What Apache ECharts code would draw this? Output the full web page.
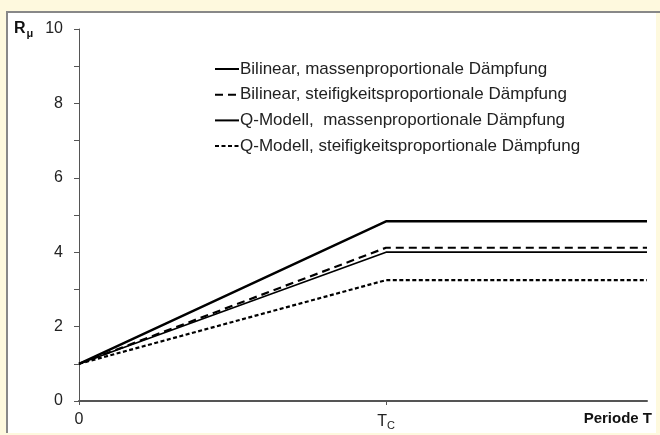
<!DOCTYPE html>
<html>
<head>
<meta charset="utf-8">
<script src="https://cdn.jsdelivr.net/npm/echarts@6/dist/echarts.min.js"></script>
<style>
  html, body { margin: 0; padding: 0; background: #fef9de; }
  #chart { width: 660px; height: 435px; }
</style>
</head>
<body>
<div id="chart"></div>
<script>
// Period axis: 0, corner period T_C (=1), end of plotted range
var periods = [0, 1, 1.85];
var xTickValues = [0, 1];
var xTickLabels = ['0', '{t|T}{s|C}'];

// Reduction factor R_mu for each model
var seriesNames = [
  'Bilinear, massenproportionale Dämpfung',
  'Bilinear, steifigkeitsproportionale Dämpfung',
  'Q-Modell,  massenproportionale Dämpfung',
  'Q-Modell, steifigkeitsproportionale Dämpfung'
];
var bilinearMass  = [1, 4.83, 4.83];
var bilinearStiff = [1, 4.12, 4.12];
var qMass         = [1, 4.0, 4.0];
var qStiff        = [1, 3.25, 3.25];

var yTickLabels = [0, 2, 4, 6, 8, 10];

function pairs(ys) {
  return periods.map(function (x, i) { return [x, ys[i]]; });
}

var styles = [
  { width: 2.4, type: 'solid' },
  { width: 2.2, type: [8, 5] },
  { width: 1.7, type: 'solid' },
  { width: 2.2, type: [4, 2.5] }
];
var values = [bilinearMass, bilinearStiff, qMass, qStiff];

var chart = echarts.init(document.getElementById('chart'), null, { renderer: 'canvas' });
var font = '"Liberation Sans", Arial, sans-serif';

chart.setOption({
  backgroundColor: '#fef9de',
  animation: false,
  textStyle: { fontFamily: font },
  graphic: [
    { type: 'rect', z: -10, shape: { x: 7, y: 11, width: 649, height: 422 }, style: { fill: '#ffffff' } },
    { type: 'line', z: -9, shape: { x1: 7, y1: 11, x2: 7, y2: 433 }, style: { stroke: '#888888', lineWidth: 2 } },
    { type: 'line', z: -9, shape: { x1: 6, y1: 12, x2: 660, y2: 12 }, style: { stroke: '#888888', lineWidth: 2 } },
    {
      type: 'text', left: 14, top: 21,
      style: {
        text: '{r|R}{m|μ}',
        rich: {
          r: { fontFamily: font, fontSize: 16, fontWeight: 'bold', fill: '#111' },
          m: { fontFamily: font, fontSize: 11, fontWeight: 'bold', fill: '#111', padding: [9, 0, 0, 1] }
        }
      }
    },
    {
      type: 'text', right: 8, top: 411,
      style: { text: 'Periode T', fontFamily: font, fontSize: 15, fontWeight: 'bold', fill: '#111' }
    }
  ],
  grid: { left: 79, right: 13, top: 29, bottom: 34, containLabel: false },
  legend: {
    orient: 'vertical',
    left: 209,
    top: 55,
    itemWidth: 24,
    itemHeight: 10,
    itemGap: 7.7,
    itemStyle: { opacity: 0 },
    textStyle: { fontFamily: font, fontSize: 17, lineHeight: 18, color: '#222', padding: [0, 0, 0, -4] },
    data: seriesNames
  },
  xAxis: {
    type: 'value',
    min: 0,
    max: 1.85,
    axisLine: { show: true, onZero: false, lineStyle: { color: '#555', width: 2 } },
    axisTick: { show: true, customValues: xTickValues, length: 4, lineStyle: { color: '#555' } },
    splitLine: { show: false },
    axisLabel: {
      customValues: xTickValues,
      formatter: function (v) { return xTickLabels[xTickValues.indexOf(v)]; },
      margin: 11,
      color: '#222',
      fontSize: 16,
      rich: {
        t: { fontFamily: font, fontSize: 16, color: '#222' },
        s: { fontFamily: font, fontSize: 11, color: '#222', padding: [8, 0, 0, 0] }
      }
    }
  },
  yAxis: {
    type: 'value',
    min: 0,
    max: 10,
    interval: 1,
    axisLine: { show: true, onZero: false, lineStyle: { color: '#555', width: 1 } },
    axisTick: { show: true, length: 5, lineStyle: { color: '#555' } },
    splitLine: { show: false },
    axisLabel: {
      margin: 16,
      color: '#222',
      fontSize: 16,
      formatter: function (v) { return yTickLabels.indexOf(v) >= 0 ? String(v) : ''; }
    }
  },
  series: values.map(function (ys, i) {
    return {
      name: seriesNames[i],
      type: 'line',
      data: pairs(ys),
      symbol: 'none',
      color: '#000',
      lineStyle: { color: '#000', width: styles[i].width, type: styles[i].type }
    };
  })
});
</script>
</body>
</html>
